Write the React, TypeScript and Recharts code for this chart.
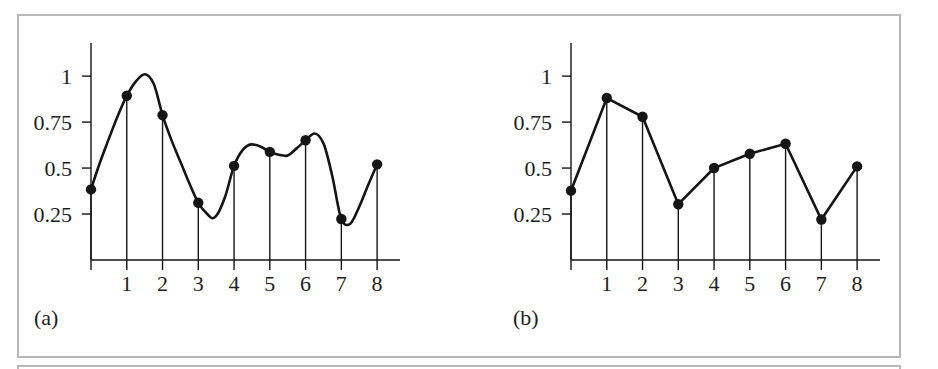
import React from 'react';
import { LineChart, Line, XAxis, YAxis, ReferenceLine } from 'recharts';

// sample instants and values
const sampleTimes = [0, 1, 2, 3, 4, 5, 6, 7, 8];
const samplesA = [0.384, 0.893, 0.788, 0.311, 0.512, 0.588, 0.651, 0.223, 0.52];
const samplesB = [0.377, 0.881, 0.779, 0.303, 0.5, 0.578, 0.632, 0.22, 0.509];

// continuous signal in panel (a), read at finer steps
const curveTimes = [
  0, 0.25, 0.5, 0.75, 1, 1.25, 1.5, 1.75, 2, 2.25, 2.5, 2.75, 3, 3.25, 3.4, 3.5, 3.75,
  4, 4.25, 4.5, 4.75, 5, 5.25, 5.45, 5.75, 6, 6.25, 6.5, 6.75, 7, 7.15, 7.25, 7.5, 7.75, 8,
];
const curveValues = [
  0.384, 0.53, 0.66, 0.785, 0.893, 0.97, 1.01, 0.96, 0.788, 0.652, 0.534, 0.417, 0.311, 0.25,
  0.227, 0.24, 0.344, 0.512, 0.6, 0.629, 0.616, 0.588, 0.572, 0.566, 0.607, 0.651, 0.688, 0.634,
  0.453, 0.223, 0.19, 0.197, 0.29, 0.408, 0.52,
];

const xTicks = [0, 1, 2, 3, 4, 5, 6, 7, 8];
const yTicks = [0.25, 0.5, 0.75, 1];
const panelLabels = ['(a)', '(b)'];

const ink = '#151515';
const font = { fontFamily: '"Liberation Serif", "Times New Roman", serif', fontSize: 22, fill: '#1e1e1e' };

const toPoints = (xs: number[], ys: number[]) => xs.map((x, i) => ({ x, y: ys[i] }));

interface PanelProps {
  samples: number[];
  curve?: { x: number; y: number }[];
  left: number;
  top: number;
}

const Panel: React.FC<PanelProps> = ({ samples, curve, left, top }) => {
  const points = toPoints(sampleTimes, samples);
  return (
    <div style={{ position: 'absolute', left, top }}>
      <LineChart width={470} height={369} margin={{ top: 43, right: 70, bottom: 0, left: 0 }}>
        <XAxis
          dataKey="x"
          type="number"
          domain={[0, 8.64]}
          ticks={xTicks}
          tickFormatter={(v: number) => (v === 0 ? '' : String(v))}
          height={109}
          tickSize={10}
          tickMargin={5}
          axisLine={{ stroke: ink, strokeWidth: 1.4 }}
          tickLine={{ stroke: ink, strokeWidth: 1.4 }}
          tick={font}
        />
        <YAxis
          type="number"
          domain={[0, 1.18]}
          ticks={yTicks}
          width={91}
          tickSize={9}
          tickMargin={10}
          axisLine={{ stroke: ink, strokeWidth: 1.4 }}
          tickLine={{ stroke: ink, strokeWidth: 1.4 }}
          tick={font}
        />
        {points.map(p => (
          <ReferenceLine
            key={p.x}
            segment={[{ x: p.x, y: 0 }, { x: p.x, y: p.y }]}
            stroke={ink}
            strokeWidth={1.4}
            ifOverflow="visible"
          />
        ))}
        {curve && (
          <Line
            data={curve}
            dataKey="y"
            type="monotone"
            stroke={ink}
            strokeWidth={2.6}
            dot={false}
            activeDot={false}
            isAnimationActive={false}
          />
        )}
        <Line
          data={points}
          dataKey="y"
          type="linear"
          stroke={curve ? 'none' : ink}
          strokeWidth={2.6}
          dot={{ r: 5.2, fill: ink, stroke: 'none' }}
          activeDot={false}
          isAnimationActive={false}
        />
      </LineChart>
    </div>
  );
};

export default function App() {
  const frame = '2px solid #b8b8b8';
  const labelStyle: React.CSSProperties = {
    position: 'absolute',
    top: 307,
    fontFamily: '"Liberation Serif", "Times New Roman", serif',
    fontSize: 22,
    lineHeight: '21px',
    color: '#1e1e1e',
  };
  return (
    <div style={{ position: 'absolute', left: 0, top: 0, width: 938, height: 369, overflow: 'hidden' }}>
      <div
        style={{
          position: 'absolute',
          left: 17,
          top: 14,
          width: 880,
          height: 340,
          borderLeft: frame,
          borderRight: frame,
          borderTop: frame,
          borderBottom: frame,
        }}
      />
      <div
        style={{
          position: 'absolute',
          left: 17,
          top: 365,
          width: 880,
          height: 20,
          borderLeft: frame,
          borderRight: frame,
          borderTop: frame,
        }}
      />
      <Panel samples={samplesA} curve={toPoints(curveTimes, curveValues)} left={0} top={0} />
      <Panel samples={samplesB} left={480} top={0} />
      <div style={{ ...labelStyle, left: 34 }}>{panelLabels[0]}</div>
      <div style={{ ...labelStyle, left: 513 }}>{panelLabels[1]}</div>
    </div>
  );
}
